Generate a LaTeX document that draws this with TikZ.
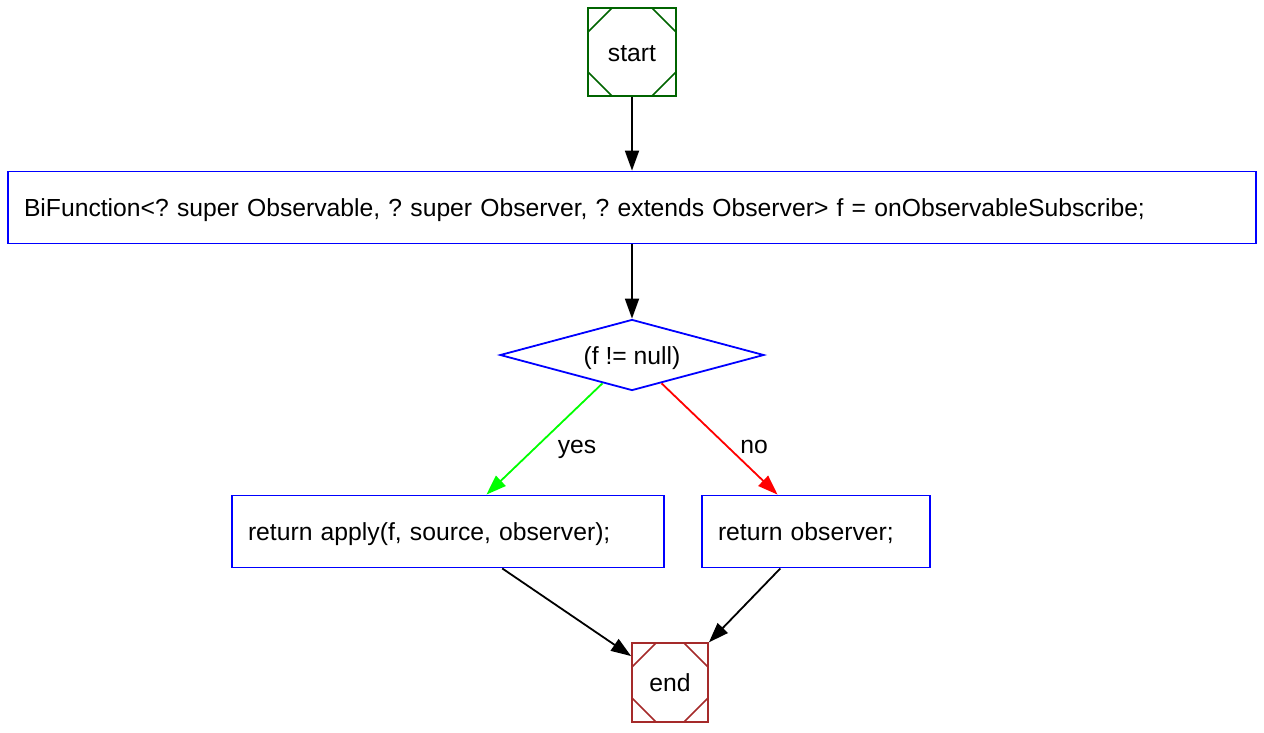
\documentclass[tikz,border=0pt]{standalone}
\usepackage{fontspec}
\setmainfont{Liberation Sans}
\frenchspacing
\usepackage{tikz}
\usetikzlibrary{shapes,arrows,arrows.meta}
\usetikzlibrary{calc}

\definecolor{startgreen}{RGB}{0,100,0}
\definecolor{endbrown}{RGB}{165,42,42}

\tikzset{
	msq/.style={draw=#1, line width=1.8pt, inner sep=0pt,
		path picture={
			\draw[#1, line width=1.6pt]
			([xshift=24pt]path picture bounding box.north west) -- ([yshift=-24pt]path picture bounding box.north west)
			([xshift=-24pt]path picture bounding box.north east) -- ([yshift=-24pt]path picture bounding box.north east)
			([xshift=24pt]path picture bounding box.south west) -- ([yshift=24pt]path picture bounding box.south west)
			([xshift=-24pt]path picture bounding box.south east) -- ([yshift=24pt]path picture bounding box.south east);
		}},
	stmt/.style={draw=blue, line width=1.8pt, inner xsep=16pt, inner ysep=0pt,
		minimum height=72pt, align=left},
	flow/.style={line width=1.8pt, -{Triangle[length=20pt,width=14pt]}}
}

\begin{document}
\begin{tikzpicture}[x=1pt,y=-1pt,font=\fontsize{24.7}{29}\selectfont,
	every node/.append style={text height=23pt, text depth=4.4pt}]
	\useasboundingbox (0,0) rectangle (1264,732);
	
	\node[msq=startgreen, minimum width=88pt, minimum height=88pt] (start) at (632,52) {start};
	
	\node[stmt, text width=1216pt] (init) at (632,207.5)
		{BiFunction<? super Observable, ? super Observer, ? extends Observer> f = onObservableSubscribe;};
	
	\node[diamond, draw=blue, line width=1.8pt, inner sep=0pt, aspect=3.7,
		minimum width=264pt, minimum height=71pt] (test) at (632,355) {(f != null)};
	
	\node[stmt, text width=400pt] (apply) at (448,531.5) {return apply(f, source, observer);};
	\node[stmt, text width=196pt] (ret) at (816,531.5) {return observer;};
	
	\node[msq=endbrown, minimum width=76pt, minimum height=79pt] (end) at (670,682.5) {end};
	
	\draw[flow] (start) -- (init);
	\draw[flow] (init) -- (test);
	\draw[flow, green] (test) -- (apply);
	\draw[flow, red] (test) -- (ret);
	\draw[flow] (apply) -- (end);
	\draw[flow] (ret) -- (end);
	
	\node (yes) at (577,444) {yes};
	\node (no) at (754,444) {no};
\end{tikzpicture}
\end{document}
